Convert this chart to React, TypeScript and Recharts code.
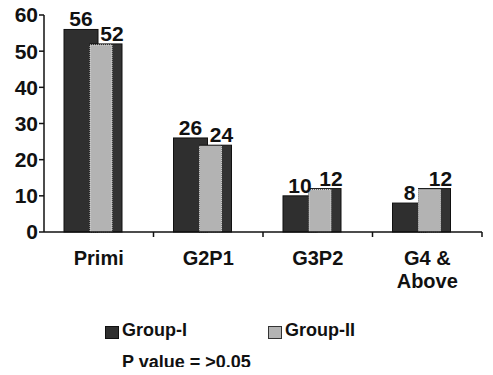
import { BarChart, Bar, XAxis, YAxis, LabelList } from "recharts";

const categories = ["Primi", "G2P1", "G3P2", "G4 &\nAbove"];
const groupI = [56, 26, 10, 8];
const groupII = [52, 24, 12, 12];
const yTicks = [0, 10, 20, 30, 40, 50, 60];

const data = categories.map((c, i) => ({ cat: c, g1: groupI[i], g2: groupII[i] }));

const FONT = "Arial, 'Liberation Sans', sans-serif";
const BAND = (493 - 44 - 11) / 4;
const SHIFT = -6;

function DarkBar(props: any) {
  const { x, y, width, height } = props;
  return <rect x={x + SHIFT} y={y} width={width} height={height} fill="#2f2f2f" stroke="#111" strokeWidth={1} />;
}

function LightBar(props: any) {
  const { x, y, width, height } = props;
  const side = 10;
  return (
    <g>
      <rect x={x + SHIFT} y={y} width={width} height={height} fill="#333" stroke="#111" strokeWidth={1} />
      <rect x={x + SHIFT} y={y + 1} width={width - side} height={height - 1} fill="#b3b3b3" stroke="#e2e2e2" strokeWidth={1} strokeDasharray="1 1" />
    </g>
  );
}

function makeLabel(dx: number) {
  return (props: any) => {
    const { x, y, width, value } = props;
    return (
      <text x={x + SHIFT + width / 2 + dx} y={y - 3} textAnchor="middle" fontFamily={FONT} fontWeight="bold" fontSize={21} fill="#111">
        {value}
      </text>
    );
  };
}

function CatTick(props: any) {
  const { x, y, payload } = props;
  const lines = String(payload.value).split("\n");
  return (
    <g>
      <line x1={x + BAND / 2} y1={y - 8} x2={x + BAND / 2} y2={y - 3} stroke="#111" strokeWidth={1.5} />
      <text x={x} y={y + 25} textAnchor="middle" fontFamily={FONT} fontWeight="bold" fontSize={20} fill="#111">
        {lines.map((l, i) => (
          <tspan key={i} x={x} dy={i === 0 ? 0 : 23}>
            {l}
          </tspan>
        ))}
      </text>
    </g>
  );
}

export default function App() {
  return (
    <div style={{ margin: -8, position: "relative", width: 493, height: 375, background: "#fff", fontFamily: FONT }}>
      <BarChart
        width={493}
        height={375}
        data={data}
        margin={{ top: 15, right: 11, bottom: 83, left: 0 }}
        barGap={-8}
      >
        <XAxis
          dataKey="cat"
          interval={0}
          tickLine={false}
          axisLine={{ stroke: "#111", strokeWidth: 1.5 }}
          tick={<CatTick />}
          height={60}
        />
        <YAxis
          domain={[0, 60]}
          ticks={yTicks}
          interval={0}
          width={44}
          tickSize={5}
          tickLine={{ stroke: "#111", strokeWidth: 1.5 }}
          axisLine={{ stroke: "#111", strokeWidth: 1.5 }}
          tick={{ fill: "#111", fontSize: 21, fontWeight: "bold", fontFamily: FONT }}
          tickMargin={1}
        />
        <Bar dataKey="g1" barSize={34} shape={<DarkBar />} isAnimationActive={false}>
          <LabelList dataKey="g1" content={makeLabel(0)} />
        </Bar>
        <Bar dataKey="g2" barSize={32} shape={<LightBar />} isAnimationActive={false}>
          <LabelList dataKey="g2" content={makeLabel(6)} />
        </Bar>
      </BarChart>
      <div style={{ position: "absolute", left: 105, top: 326, width: 12, height: 11, background: "#2f2f2f", border: "1px solid #111" }} />
      <div style={{ position: "absolute", left: 122, top: 320, fontSize: 18, fontWeight: "bold", color: "#111" }}>Group-I</div>
      <div style={{ position: "absolute", left: 268, top: 326, width: 12, height: 11, background: "#b3b3b3", border: "1px solid #333" }} />
      <div style={{ position: "absolute", left: 285, top: 320, fontSize: 18, fontWeight: "bold", color: "#111" }}>Group-II</div>
      <div style={{ position: "absolute", left: 122, top: 352, fontSize: 18, fontWeight: "bold", color: "#111" }}>P value = &gt;0.05</div>
    </div>
  );
}
